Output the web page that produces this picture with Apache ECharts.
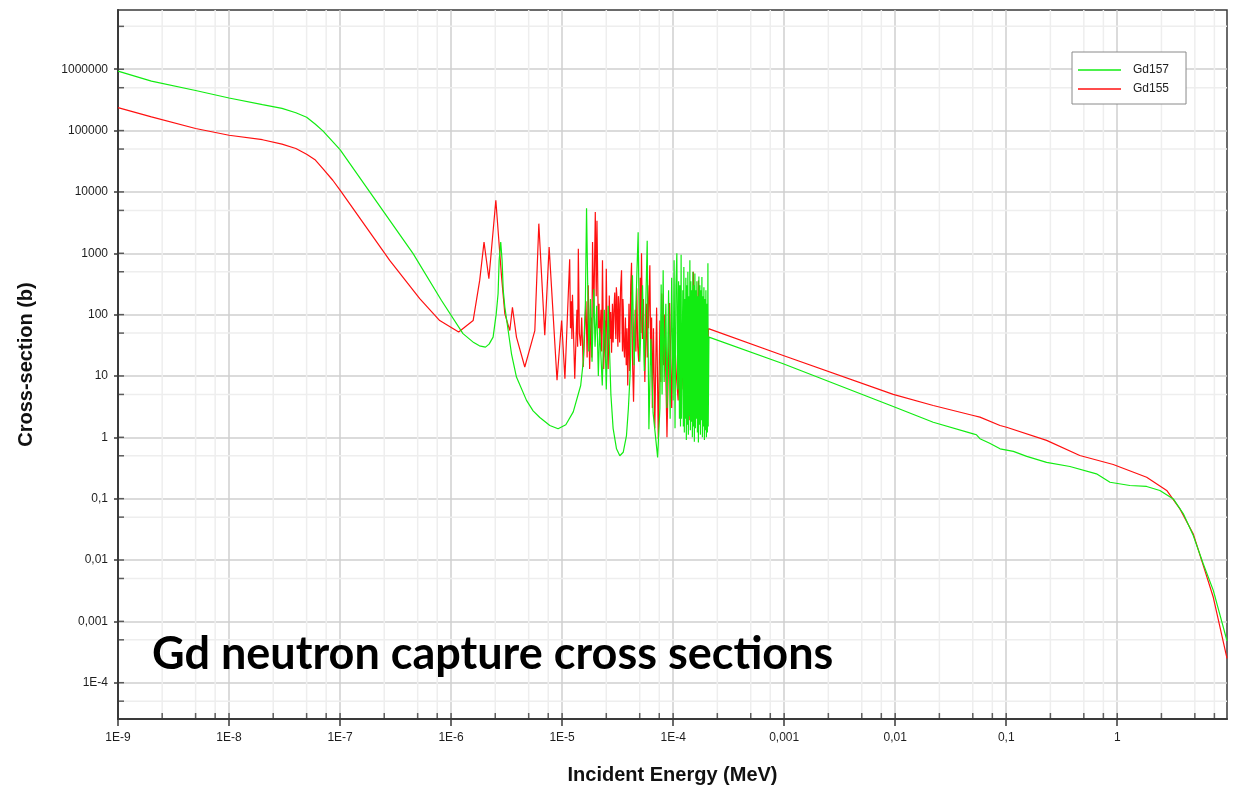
<!DOCTYPE html>
<html>
<head>
<meta charset="utf-8">
<title>Gd neutron capture cross sections</title>
<script src="https://cdn.jsdelivr.net/npm/echarts@6/dist/echarts.min.js"></script>
<style>
  html, body { margin: 0; padding: 0; background: #ffffff; }
  #chart { width: 1245px; height: 799px; }
</style>
</head>
<body>
<div id="chart"></div>
<script>
// ---- Axis ticks and labels -------------------------------------------------
const xTickValues = [1e-9, 1e-8, 1e-7, 1e-6, 1e-5, 1e-4, 1e-3, 1e-2, 1e-1, 1];
const xTickLabels = ['1E-9', '1E-8', '1E-7', '1E-6', '1E-5', '1E-4', '0,001', '0,01', '0,1', '1'];
const yTickValues = [1e-4, 1e-3, 1e-2, 1e-1, 1, 10, 100, 1000, 1e4, 1e5, 1e6];
const yTickLabels = ['1E-4', '0,001', '0,01', '0,1', '1', '10', '100', '1000', '10000', '100000', '1000000'];
const xMinorSteps = [2.5, 5, 7.5];
const yMinorSteps = [5];
const xRange = [1e-9, 9.74];
const yRange = [2.56e-5, 9.24e6];

// ---- Gd-157 capture cross section (barn) vs incident energy (MeV) ---------
const gd157Thermal = [
  [1e-9, 9.3e5], [2e-9, 6.4e5], [5e-9, 4.5e5], [1e-8, 3.4e5], [2e-8, 2.65e5],
  [3e-8, 2.3e5], [4e-8, 1.95e5], [5e-8, 1.65e5], [6e-8, 1.27e5], [7e-8, 9.9e4],
  [1e-7, 4.9e4], [1.85e-7, 1.0e4], [4.55e-7, 985], [8.2e-7, 170],
  [1.28e-6, 49], [1.6e-6, 35], [1.8e-6, 31], [2.04e-6, 29.5], [2.2e-6, 33],
  [2.39e-6, 43], [2.55e-6, 103], [2.65e-6, 219], [2.71e-6, 766], [2.8e-6, 1520],
  [2.88e-6, 766], [2.95e-6, 248], [3.05e-6, 132], [3.5e-6, 23], [3.88e-6, 9.6],
  [4.78e-6, 4], [5.48e-6, 2.7], [6.3e-6, 2.1], [7.75e-6, 1.56], [9.2e-6, 1.38],
  [1.08e-5, 1.6], [1.26e-5, 2.6], [1.47e-5, 7], [1.55e-5, 17], [1.62e-5, 150]
];
const gd157Resonances = [
  [1.66e-5, 5400], [1.70e-5, 320], [1.74e-5, 25], [1.80e-5, 180], [1.86e-5, 17],
  [1.93e-5, 260], [1.98e-5, 30], [2.05e-5, 140], [2.12e-5, 10], [2.18e-5, 60],
  [2.3e-5, 7], [2.4e-5, 120], [2.5e-5, 6], [2.6e-5, 140], [2.65e-5, 150],
  [2.75e-5, 5], [2.88e-5, 1.4], [3.09e-5, 0.65], [3.31e-5, 0.5], [3.55e-5, 0.57],
  [3.8e-5, 1.07], [3.95e-5, 2.9], [4.1e-5, 11], [4.3e-5, 440], [4.45e-5, 15],
  [4.84e-5, 2200], [5.0e-5, 17], [5.3e-5, 300], [5.5e-5, 12], [5.84e-5, 1600],
  [6.05e-5, 1.35], [6.3e-5, 40], [6.6e-5, 2.5], [7.25e-5, 0.47], [7.6e-5, 3],
  [7.8e-5, 310], [7.95e-5, 5], [8.13e-5, 530], [8.3e-5, 8], [8.6e-5, 150],
  [8.8e-5, 3], [9.1e-5, 250], [9.4e-5, 2], [9.7e-5, 400], [1.0e-4, 4],
  [1.02e-4, 770], [1.04e-4, 1.4], [1.06e-4, 300], [1.08e-4, 1000], [1.10e-4, 6],
  [1.12e-4, 350], [1.14e-4, 2], [1.15e-4, 300], [1.165e-4, 1.5], [1.18e-4, 950],
  [1.19e-4, 2],
  [1.223e-4, 250], [1.236e-4, 1.5], [1.249e-4, 600], [1.262e-4, 1.2],
  [1.275e-4, 180], [1.288e-4, 2], [1.302e-4, 400], [1.315e-4, 0.9],
  [1.329e-4, 300], [1.343e-4, 1.6], [1.357e-4, 500], [1.371e-4, 1.1],
  [1.386e-4, 200], [1.400e-4, 2.2], [1.415e-4, 770], [1.430e-4, 1.3],
  [1.444e-4, 350], [1.460e-4, 1.8], [1.475e-4, 250], [1.490e-4, 1.0],
  [1.506e-4, 500], [1.521e-4, 1.5], [1.537e-4, 300], [1.553e-4, 0.85],
  [1.570e-4, 470], [1.586e-4, 1.4], [1.603e-4, 250], [1.619e-4, 2],
  [1.636e-4, 350], [1.654e-4, 1.2], [1.671e-4, 200], [1.688e-4, 0.82],
  [1.706e-4, 420], [1.724e-4, 1.6], [1.742e-4, 300], [1.760e-4, 1.1],
  [1.778e-4, 250], [1.797e-4, 1.9], [1.816e-4, 410], [1.835e-4, 1.0],
  [1.854e-4, 200], [1.873e-4, 1.5], [1.893e-4, 280], [1.913e-4, 0.9],
  [1.933e-4, 180], [1.953e-4, 1.3], [1.973e-4, 250], [1.994e-4, 1.0],
  [2.015e-4, 150], [2.036e-4, 1.2], [2.057e-4, 690], [2.07e-4, 1.5]
];
const gd157Fast = [
  [2.1e-4, 43], [9.8e-4, 15.8], [9.6e-3, 3.18], [2.2e-2, 1.76], [5.05e-2, 1.14],
  [5.4e-2, 1.1], [5.8e-2, 0.95], [7.1e-2, 0.8], [8.8e-2, 0.65], [0.116, 0.59],
  [0.153, 0.49], [0.231, 0.39], [0.375, 0.334], [0.65, 0.254], [0.86, 0.185],
  [1.3, 0.164], [1.84, 0.158], [2.42, 0.136], [3.2, 0.099], [3.94, 0.0565],
  [4.84, 0.025], [5.96, 0.0086], [7.33, 0.0032], [9.74, 4.8e-4]
];

// ---- Gd-155 capture cross section (barn) vs incident energy (MeV) ---------
const gd155Thermal = [
  [1e-9, 2.37e5], [2e-9, 1.67e5], [5e-9, 1.08e5], [1e-8, 8.4e4], [2e-8, 7.1e4],
  [3e-8, 6.0e4], [4e-8, 5.1e4], [5e-8, 4.1e4], [6e-8, 3.3e4], [7e-8, 2.4e4],
  [8.6e-8, 1.55e4], [1e-7, 1.07e4], [2.8e-7, 766], [5.22e-7, 182], [7.9e-7, 80],
  [1.17e-6, 52], [1.58e-6, 80], [1.81e-6, 361], [1.98e-6, 1520], [2.19e-6, 385],
  [2.53e-6, 7300], [2.85e-6, 409], [3.05e-6, 103], [3.38e-6, 55], [3.57e-6, 132],
  [3.88e-6, 43], [4.61e-6, 14], [5.68e-6, 55], [6.17e-6, 3040], [6.98e-6, 46],
  [7.64e-6, 1260], [9.0e-6, 8.5], [9.9e-6, 80], [1.06e-5, 9]
];
const gd155Resonances = [
  [1.17e-5, 800], [1.19e-5, 60], [1.21e-5, 165], [1.225e-5, 40], [1.24e-5, 210],
  [1.30e-5, 9], [1.36e-5, 120], [1.38e-5, 30], [1.40e-5, 1180], [1.43e-5, 50],
  [1.47e-5, 31], [1.5e-5, 90], [1.55e-5, 14], [1.6e-5, 13], [1.64e-5, 165],
  [1.68e-5, 20], [1.72e-5, 300], [1.77e-5, 13], [1.82e-5, 90], [1.85e-5, 20],
  [1.88e-5, 1520], [1.93e-5, 100], [1.99e-5, 4700], [2.03e-5, 200], [2.06e-5, 3400],
  [2.12e-5, 60], [2.15e-5, 150], [2.18e-5, 36], [2.24e-5, 120], [2.27e-5, 25],
  [2.31e-5, 770], [2.37e-5, 13], [2.42e-5, 80], [2.46e-5, 20], [2.5e-5, 560],
  [2.55e-5, 30], [2.6e-5, 13], [2.66e-5, 205], [2.7e-5, 40], [2.74e-5, 110],
  [2.79e-5, 24], [2.84e-5, 150], [2.88e-5, 35], [2.93e-5, 120], [2.98e-5, 230],
  [3.02e-5, 60], [3.05e-5, 40], [3.08e-5, 280], [3.12e-5, 190], [3.15e-5, 50],
  [3.18e-5, 30], [3.22e-5, 200], [3.25e-5, 150], [3.28e-5, 45], [3.3e-5, 35],
  [3.36e-5, 260], [3.43e-5, 530], [3.47e-5, 60], [3.5e-5, 25], [3.53e-5, 180],
  [3.56e-5, 120], [3.6e-5, 30], [3.65e-5, 20], [3.72e-5, 90], [3.78e-5, 15],
  [3.84e-5, 60], [3.9e-5, 7], [4.0e-5, 150], [4.05e-5, 12], [4.15e-5, 300],
  [4.22e-5, 700], [4.3e-5, 20], [4.4e-5, 3.8], [4.55e-5, 120], [4.62e-5, 25],
  [4.7e-5, 270], [4.8e-5, 30], [4.9e-5, 17], [5.05e-5, 400], [5.12e-5, 50],
  [5.19e-5, 1000], [5.3e-5, 40], [5.4e-5, 180], [5.56e-5, 8], [5.75e-5, 150],
  [5.85e-5, 20], [5.9e-5, 300], [6.0e-5, 60], [6.17e-5, 640], [6.3e-5, 15],
  [6.4e-5, 90], [6.5e-5, 3], [6.65e-5, 60], [6.84e-5, 1.4], [7.1e-5, 130],
  [7.35e-5, 0.95], [7.6e-5, 80], [7.75e-5, 8], [7.9e-5, 220], [8.2e-5, 15],
  [8.4e-5, 100], [8.8e-5, 1.0], [9.3e-5, 155], [9.7e-5, 3], [1.0e-4, 60],
  [1.035e-4, 38], [1.07e-4, 10], [1.11e-4, 4], [1.16e-4, 90], [1.2e-4, 6],
  [1.275e-4, 50], [1.33e-4, 3], [1.37e-4, 120], [1.415e-4, 1.9], [1.52e-4, 500],
  [1.6e-4, 5.8], [1.69e-4, 360], [1.75e-4, 3], [1.82e-4, 150], [1.9e-4, 4],
  [1.96e-4, 80], [2.02e-4, 5]
];
const gd155Fast = [
  [2.08e-4, 59], [9.8e-4, 21.6], [9.6e-3, 5.0], [2.2e-2, 3.3], [5.05e-2, 2.27],
  [5.8e-2, 2.13], [8.8e-2, 1.56], [0.1007, 1.46], [0.231, 0.89], [0.46, 0.505],
  [0.92, 0.36], [1.84, 0.223], [2.79, 0.136], [3.67, 0.068], [4.84, 0.0266],
  [5.96, 0.0081], [7.33, 0.00247], [9.74, 2.5e-4]
];

// ---- Build helpers ---------------------------------------------------------
const gd157 = gd157Thermal.concat(gd157Resonances, gd157Fast);
const gd155 = gd155Thermal.concat(gd155Resonances, gd155Fast);

function labelFor(values, labels) {
  return function (v) {
    const i = values.findIndex(t => Math.abs(Math.log10(t) - Math.log10(v)) < 1e-6);
    return i >= 0 ? labels[i] : '';
  };
}

// minor grid positions inside each decade
const xMinor = [];
xTickValues.forEach(d => xMinorSteps.forEach(s => {
  const v = d * s;
  if (v < xRange[1]) xMinor.push(v);
}));
const yMinor = [];
[1e-5].concat(yTickValues).forEach(d => yMinorSteps.forEach(s => {
  const v = d * s;
  if (v > yRange[0] && v < yRange[1]) yMinor.push(v);
}));

const xInsideTicks = xTickValues.concat(xMinor).map(v => [v, yRange[0]]);
const yInsideTicks = yTickValues.concat(yMinor).map(v => [xRange[0], v]);

const axisColor = '#3a3a3a';
const minorGridColor = '#eeeeee';
const labelFont = { fontFamily: 'Liberation Sans, Arial, sans-serif', fontSize: 12, color: '#1e1e1e' };
const nameFont = { fontFamily: 'Liberation Sans, Arial, sans-serif', fontSize: 20, fontWeight: 'bold', color: '#111' };

// light guide lines across the plot at the minor positions
function verticalGuide(params, api) {
  const a = api.coord([api.value(0), yRange[0]]);
  const b = api.coord([api.value(0), yRange[1]]);
  return { type: 'line', shape: { x1: a[0], y1: a[1], x2: b[0], y2: b[1] },
           style: { stroke: minorGridColor, lineWidth: 1.5 } };
}
function horizontalGuide(params, api) {
  const a = api.coord([xRange[0], api.value(1)]);
  const b = api.coord([xRange[1], api.value(1)]);
  return { type: 'line', shape: { x1: a[0], y1: a[1], x2: b[0], y2: b[1] },
           style: { stroke: minorGridColor, lineWidth: 1.5 } };
}

const chart = echarts.init(document.getElementById('chart'), null, { renderer: 'canvas' });
chart.setOption({
  animation: false,
  backgroundColor: '#ffffff',
  grid: {
    left: 118, right: 18, top: 10, bottom: 80,
    show: true, borderColor: axisColor, borderWidth: 1.5, backgroundColor: 'transparent'
  },
  legend: {
    data: ['Gd157', 'Gd155'],
    orient: 'vertical',
    left: 1072, top: 52,
    icon: 'rect',
    itemWidth: 43, itemHeight: 1.5, itemGap: 7,
    padding: [12, 17, 9, 6],
    backgroundColor: '#ffffff',
    borderColor: '#8a8a8a', borderWidth: 1, borderRadius: 0,
    textStyle: { fontFamily: 'Liberation Sans, Arial, sans-serif', fontSize: 12, color: '#222', padding: [0, 0, 0, 7] }
  },
  graphic: [{
    type: 'text', left: 152, top: 632, z: 10,
    style: { text: 'Gd neutron capture cross sections', font: 'bold 45px Lato', fill: '#000000' }
  }],
  xAxis: {
    type: 'log', logBase: 10, min: xRange[0], max: xRange[1],
    name: 'Incident Energy (MeV)', nameLocation: 'middle', nameGap: 46,
    nameTextStyle: nameFont,
    axisLine: { lineStyle: { color: axisColor, width: 2 } },
    axisTick: { customValues: xTickValues, length: 7, lineStyle: { color: axisColor, width: 1.5 } },
    axisLabel: Object.assign({ customValues: xTickValues, margin: 13, formatter: labelFor(xTickValues, xTickLabels) }, labelFont),
    splitLine: { show: true, lineStyle: { color: '#cfcfcf', width: 1.5 } },
    minorTick: { show: false }
  },
  yAxis: {
    type: 'log', logBase: 10, min: yRange[0], max: yRange[1],
    name: 'Cross-section (b)', nameLocation: 'middle', nameGap: 82, nameRotate: 90,
    nameTextStyle: nameFont,
    axisLine: { lineStyle: { color: axisColor, width: 2 } },
    axisTick: { customValues: yTickValues, length: 4, lineStyle: { color: axisColor, width: 1.5 } },
    axisLabel: Object.assign({ customValues: yTickValues, margin: 10, formatter: labelFor(yTickValues, yTickLabels) }, labelFont),
    splitLine: { show: true, lineStyle: { color: '#cfcfcf', width: 1.5 } },
    minorTick: { show: false }
  },
  series: [
    {
      name: 'xGuides', type: 'custom', data: xMinor.map(v => [v, yRange[0]]),
      renderItem: verticalGuide, silent: true, z: 0
    },
    {
      name: 'yGuides', type: 'custom', data: yMinor.map(v => [xRange[0], v]),
      renderItem: horizontalGuide, silent: true, z: 0
    },
    {
      name: 'xTicks', type: 'scatter', data: xInsideTicks, silent: true, clip: false, z: 1,
      symbol: 'rect', symbolSize: [1.5, 6], symbolOffset: [0, -3],
      itemStyle: { color: axisColor }
    },
    {
      name: 'yTicks', type: 'scatter', data: yInsideTicks, silent: true, clip: false, z: 1,
      symbol: 'rect', symbolSize: [6, 1.5], symbolOffset: [3, 0],
      itemStyle: { color: axisColor }
    },
    {
      name: 'Gd155', type: 'line', data: gd155, showSymbol: false, symbol: 'none',
      sampling: null, z: 3,
      lineStyle: { color: '#ff1010', width: 1.2 }, itemStyle: { color: '#ff1010' }
    },
    {
      name: 'Gd157', type: 'line', data: gd157, showSymbol: false, symbol: 'none',
      sampling: null, z: 4,
      lineStyle: { color: '#12ec12', width: 1.2 }, itemStyle: { color: '#12ec12' }
    }
  ]
});
</script>
</body>
</html>
